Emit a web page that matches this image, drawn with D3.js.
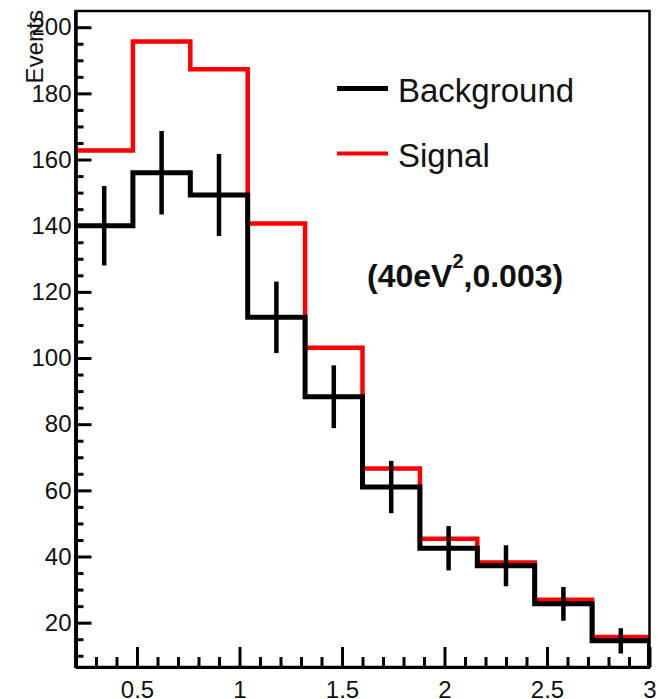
<!DOCTYPE html>
<html>
<head>
<meta charset="utf-8">
<script src="https://cdn.jsdelivr.net/npm/d3@7"></script>
<style>
  html, body { margin: 0; padding: 0; background: #fff; }
  svg { display: block; font-family: "Liberation Sans", Arial, Helvetica, sans-serif; }
</style>
</head>
<body>
<div id="chart"></div>
<script>
// bin edges of the histograms
var binEdges = [0.2, 0.48, 0.76, 1.04, 1.32, 1.6, 1.88, 2.16, 2.44, 2.72, 3.0];
// bin contents
var background = [140, 156, 149.3, 112.3, 88.3, 61, 42.5, 37.2, 25.7, 14.5];
var backgroundErr = [12.0, 12.6, 12.4, 10.8, 9.5, 7.9, 6.7, 6.2, 5.1, 3.8];
var signal = [162.7, 195.7, 187.3, 140.7, 103.1, 66.6, 45.4, 38.2, 26.9, 15.7];

var xMajorTicks = [0.5, 1, 1.5, 2, 2.5, 3];
var xMinorTicks = [0.3, 0.4, 0.6, 0.7, 0.8, 0.9, 1.1, 1.2, 1.3, 1.4, 1.6, 1.7, 1.8, 1.9,
                   2.1, 2.2, 2.3, 2.4, 2.6, 2.7, 2.8, 2.9];
var yMajorTicks = [20, 40, 60, 80, 100, 120, 140, 160, 180, 200];
var yMinorTicks = [10, 15, 25, 30, 35, 45, 50, 55, 65, 70, 75, 85, 90, 95, 105, 110, 115,
                   125, 130, 135, 145, 150, 155, 165, 170, 175, 185, 190, 195];

var legendNames = ["Background", "Signal"];
var legendColors = ["#000", "#ff0000"];
var annotation = { base: "(40eV", sup: "2", rest: ",0.003)" };

var width = 659, height = 699;
var margin = { left: 75.5, right: 649.5, top: 11, bottom: 667 };

var x = d3.scaleLinear().domain([0.2, 3.0]).range([margin.left, margin.right]);
var y = d3.scaleLinear().domain([6.6, 204.9]).range([margin.bottom, margin.top]);

var svg = d3.select("#chart").append("svg")
    .attr("width", width)
    .attr("height", height);

svg.append("defs").append("clipPath")
    .attr("id", "plot-clip")
    .append("rect")
    .attr("x", margin.left).attr("y", margin.top)
    .attr("width", margin.right - margin.left)
    .attr("height", margin.bottom - margin.top);

var plot = svg.append("g").attr("clip-path", "url(#plot-clip)");

// step outline of a histogram
function stepPoints(values) {
    var yMin = y.domain()[0];
    var pts = [[binEdges[0], yMin]];
    values.forEach(function(v, i) { pts.push([binEdges[i], v]); });
    pts.push([binEdges[binEdges.length - 1], values[values.length - 1]]);
    pts.push([binEdges[binEdges.length - 1], yMin]);
    return pts;
}

var step = d3.line()
    .x(function(d) { return x(d[0]); })
    .y(function(d) { return y(d[1]); })
    .curve(d3.curveStepAfter);

plot.append("path")
    .attr("d", step(stepPoints(signal)))
    .attr("fill", "none")
    .attr("stroke", legendColors[1])
    .attr("stroke-width", 4.5)
    .attr("stroke-linejoin", "miter");

plot.append("path")
    .attr("d", step(stepPoints(background)))
    .attr("fill", "none")
    .attr("stroke", legendColors[0])
    .attr("stroke-width", 5)
    .attr("stroke-linejoin", "miter");

// error bars at bin centres
plot.selectAll("line.err").data(background)
    .enter().append("line")
    .attr("class", "err")
    .attr("x1", function(d, i) { return x((binEdges[i] + binEdges[i + 1]) / 2); })
    .attr("x2", function(d, i) { return x((binEdges[i] + binEdges[i + 1]) / 2); })
    .attr("y1", function(d, i) { return y(d - backgroundErr[i]); })
    .attr("y2", function(d, i) { return y(d + backgroundErr[i]); })
    .attr("stroke", "#000")
    .attr("stroke-width", 4.5);

// frame
svg.append("rect")
    .attr("x", margin.left).attr("y", margin.top)
    .attr("width", margin.right - margin.left)
    .attr("height", margin.bottom - margin.top)
    .attr("fill", "none")
    .attr("stroke", "#000")
    .attr("stroke-width", 2.5);

// x axis (ticks pointing inside)
svg.append("g")
    .attr("transform", "translate(0," + margin.bottom + ")")
    .call(d3.axisBottom(x).tickValues(xMajorTicks)
        .tickSizeInner(-20).tickSizeOuter(0).tickPadding(14)
        .tickFormat(d3.format("")));
svg.append("g")
    .attr("transform", "translate(0," + margin.bottom + ")")
    .call(d3.axisBottom(x).tickValues(xMinorTicks)
        .tickSizeInner(-10).tickSizeOuter(0).tickFormat(""));

// y axis
svg.append("g")
    .attr("transform", "translate(" + margin.left + ",0)")
    .call(d3.axisLeft(y).tickValues(yMajorTicks)
        .tickSizeInner(-16).tickSizeOuter(0).tickPadding(4)
        .tickFormat(d3.format("d")));
svg.append("g")
    .attr("transform", "translate(" + margin.left + ",0)")
    .call(d3.axisLeft(y).tickValues(yMinorTicks)
        .tickSizeInner(-8).tickSizeOuter(0).tickFormat(""));

svg.selectAll(".domain").attr("stroke", "#000").attr("stroke-width", 3);
svg.selectAll(".tick line").attr("stroke", "#000").attr("stroke-width", 3);
svg.selectAll(".tick text")
    .attr("fill", "#111")
    .style("font-family", "'Liberation Sans', Arial, Helvetica, sans-serif")
    .style("font-size", "24px");

// y title
svg.append("text")
    .attr("transform", "translate(43,10) rotate(-90)")
    .attr("text-anchor", "end")
    .style("font-size", "24px")
    .attr("fill", "#111")
    .text("Events");

// legend
var legend = svg.append("g").selectAll("g").data(legendNames)
    .enter().append("g")
    .attr("transform", function(d, i) { return "translate(337," + (88.5 + i * 65) + ")"; });

legend.append("line")
    .attr("x1", 0).attr("x2", 51)
    .attr("stroke", function(d, i) { return legendColors[i]; })
    .attr("stroke-width", function(d, i) { return i === 0 ? 5 : 4; });

legend.append("text")
    .attr("x", 61)
    .attr("y", 13.5)
    .style("font-size", "33px")
    .attr("fill", "#111")
    .text(function(d) { return d; });

// parameter annotation
var ann = svg.append("text")
    .attr("x", 367)
    .attr("y", 287)
    .style("font-size", "32px")
    .style("font-weight", "bold")
    .attr("fill", "#111");
ann.append("tspan").text(annotation.base);
ann.append("tspan")
    .attr("dy", -19)
    .style("font-size", "20px")
    .text(annotation.sup);
ann.append("tspan")
    .attr("dy", 19)
    .text(annotation.rest);
</script>
</body>
</html>
